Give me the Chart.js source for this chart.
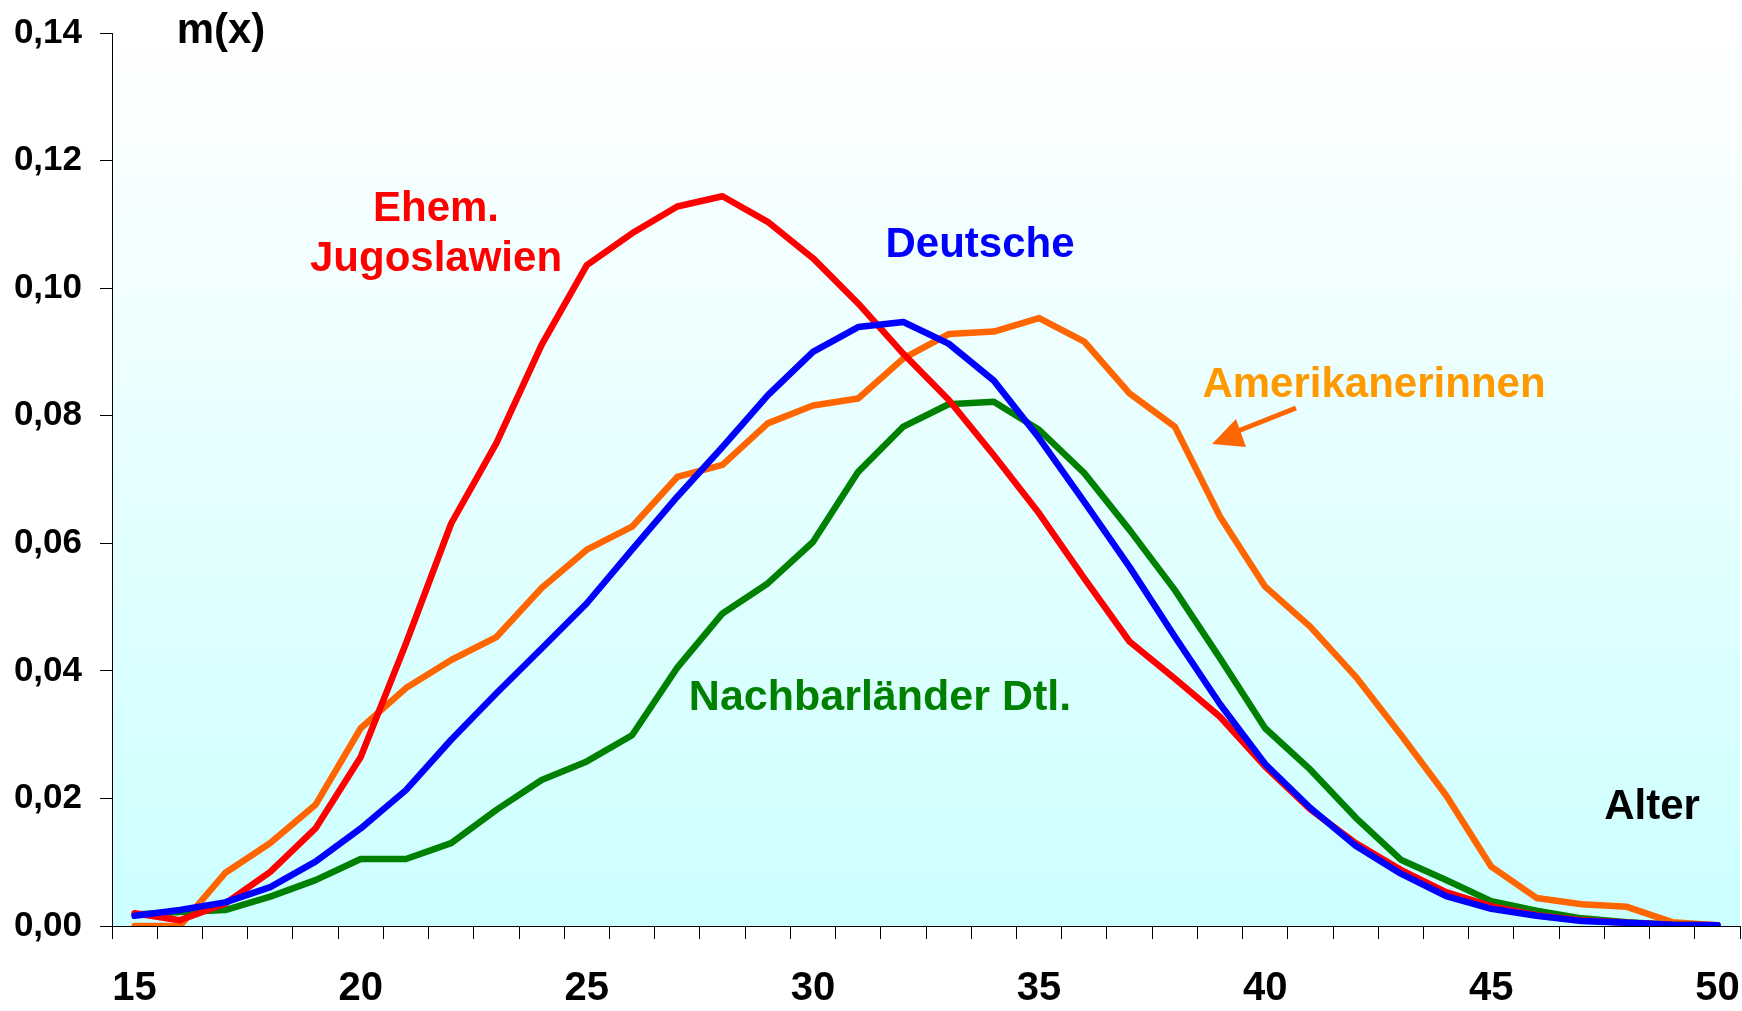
<!DOCTYPE html>
<html>
<head>
<meta charset="utf-8">
<script src="https://cdn.jsdelivr.net/npm/chart.js@4/dist/chart.umd.min.js"></script>
<style>
  html, body { margin: 0; padding: 0; background: #ffffff; }
  #c { display: block; }
</style>
</head>
<body>
<canvas id="c" width="1742" height="1011"></canvas>
<script>
// Age categories (x axis)
const ages = [15,16,17,18,19,20,21,22,23,24,25,26,27,28,29,30,31,32,33,34,35,36,37,38,39,40,41,42,43,44,45,46,47,48,49,50];

// Ehem. Jugoslawien
const jugoslawien = [0.0020,0.0009,0.0035,0.0085,0.0153,0.0265,0.0443,0.0631,0.0757,0.0911,0.1036,0.1086,0.1128,0.1144,0.1104,0.1047,0.0976,0.0897,0.0825,0.0738,0.0647,0.0545,0.0446,0.0388,0.0328,0.0250,0.0183,0.0130,0.0088,0.0053,0.0031,0.0017,0.0009,0.0005,0.0002,0.0001];

// Deutsche
const deutsche = [0.0016,0.0025,0.0037,0.0061,0.0101,0.0153,0.0213,0.0292,0.0365,0.0435,0.0506,0.0590,0.0673,0.0751,0.0832,0.0900,0.0939,0.0947,0.0913,0.0855,0.0765,0.0665,0.0563,0.0454,0.0348,0.0254,0.0185,0.0126,0.0082,0.0047,0.0027,0.0016,0.0008,0.0005,0.0002,0.0001];

// Amerikanerinnen
const amerikanerinnen = [0.0000,0.0000,0.0083,0.0130,0.0190,0.0310,0.0373,0.0417,0.0453,0.0530,0.0590,0.0626,0.0704,0.0723,0.0788,0.0816,0.0827,0.0890,0.0928,0.0932,0.0953,0.0916,0.0835,0.0783,0.0642,0.0532,0.0469,0.0391,0.0300,0.0205,0.0093,0.0044,0.0034,0.0030,0.0006,0.0001];

// Nachbarländer Dtl.
const nachbarlaender = [0.0018,0.0022,0.0025,0.0046,0.0072,0.0105,0.0105,0.0130,0.0182,0.0229,0.0258,0.0299,0.0405,0.0490,0.0537,0.0602,0.0712,0.0783,0.0818,0.0822,0.0778,0.0710,0.0621,0.0527,0.0420,0.0310,0.0245,0.0170,0.0104,0.0072,0.0039,0.0024,0.0012,0.0006,0.0002,0.0001];

// Axis ticks
const yTicks = [0, 0.02, 0.04, 0.06, 0.08, 0.10, 0.12, 0.14];
const xLabelEvery = 5;

const FONT = '"Liberation Sans", Arial, Helvetica, sans-serif';
const NARROW = '"Liberation Sans Narrow", "Arial Narrow", "Liberation Sans", Arial, sans-serif';

const bgPlugin = {
  id: 'bg',
  beforeDraw(chart) {
    const {ctx, chartArea: a} = chart;
    const g = ctx.createLinearGradient(0, a.top, 0, a.bottom);
    g.addColorStop(0, '#ffffff');
    g.addColorStop(1, '#ccffff');
    ctx.save();
    ctx.fillStyle = g;
    ctx.fillRect(a.left, a.top, a.right - a.left, a.bottom - a.top);
    ctx.restore();
  }
};

const textPlugin = {
  id: 'texts',
  afterDraw(chart) {
    const ctx = chart.ctx;
    ctx.save();
    ctx.textAlign = 'center';
    ctx.textBaseline = 'alphabetic';
    const put = (t, x, y, color, size) => {
      ctx.font = 'bold ' + size + 'px ' + FONT;
      ctx.fillStyle = color;
      ctx.fillText(t, x, y);
    };
    put('m(x)', 221, 43, '#000000', 42);
    put('Ehem.', 436, 221, '#ff0000', 42);
    put('Jugoslawien', 436, 271, '#ff0000', 42);
    put('Deutsche', 980, 257, '#0000ff', 42);
    put('Amerikanerinnen', 1374, 397, '#ff9900', 42);
    put('Nachbarländer Dtl.', 880, 710, '#008000', 43);
    put('Alter', 1652, 819, '#000000', 42);

    // arrow
    ctx.strokeStyle = '#ff6600';
    ctx.fillStyle = '#ff6600';
    ctx.lineWidth = 5;
    ctx.beginPath();
    ctx.moveTo(1296, 408);
    ctx.lineTo(1238, 431);
    ctx.stroke();
    ctx.beginPath();
    ctx.moveTo(1212, 444);
    ctx.lineTo(1236, 419);
    ctx.lineTo(1246, 447);
    ctx.closePath();
    ctx.fill();
    ctx.restore();
  }
};

const mk = (label, data, color, order) => ({
  label, data,
  borderColor: color,
  backgroundColor: color,
  borderWidth: 6.5,
  pointRadius: 0,
  tension: 0,
  borderCapStyle: 'round',
  borderJoinStyle: 'round',
  fill: false,
  order
});

new Chart(document.getElementById('c'), {
  type: 'line',
  data: {
    labels: ages.map(String),
    datasets: [
      mk('Deutsche', deutsche, '#0000ff', 1),
      mk('Ehem. Jugoslawien', jugoslawien, '#ff0000', 2),
      mk('Nachbarländer Dtl.', nachbarlaender, '#008000', 3),
      mk('Amerikanerinnen', amerikanerinnen, '#ff6600', 4)
    ]
  },
  options: {
    responsive: false,
    animation: false,
    devicePixelRatio: 1,
    layout: { padding: { top: 33, right: 2, left: 0, bottom: 0 } },
    plugins: { legend: { display: false }, tooltip: { enabled: false } },
    scales: {
      x: {
        type: 'category',
        offset: true,
        grid: { offset: true, drawOnChartArea: false, drawTicks: true, tickLength: 13, color: '#000000', lineWidth: 1 },
        border: { display: true, color: '#000000', width: 1 },
        ticks: {
          autoSkip: false, maxRotation: 0, minRotation: 0,
          padding: 26,
          color: '#000000',
          font: { family: NARROW, size: 40, weight: 'bold' },
          callback: function(v, i) { return ages[i] % xLabelEvery === 0 ? String(ages[i]) : ''; }
        },
        afterFit(s) { s.height = 85; s.paddingLeft = 0; s.paddingRight = 0; }
      },
      y: {
        min: 0, max: 0.14,
        afterBuildTicks(s) { s.ticks = yTicks.map(v => ({ value: v })); },
        grid: { drawOnChartArea: false, drawTicks: true, tickLength: 12, color: '#000000', lineWidth: 1 },
        border: { display: true, color: '#000000', width: 1 },
        ticks: {
          padding: 18,
          color: '#000000',
          font: { family: FONT, size: 35, weight: 'bold' },
          callback: v => v.toFixed(2).replace('.', ',')
        },
        afterFit(s) { s.width = 112; s.paddingTop = 0; s.paddingBottom = 0; }
      }
    }
  },
  plugins: [bgPlugin, textPlugin]
});
</script>
</body>
</html>
